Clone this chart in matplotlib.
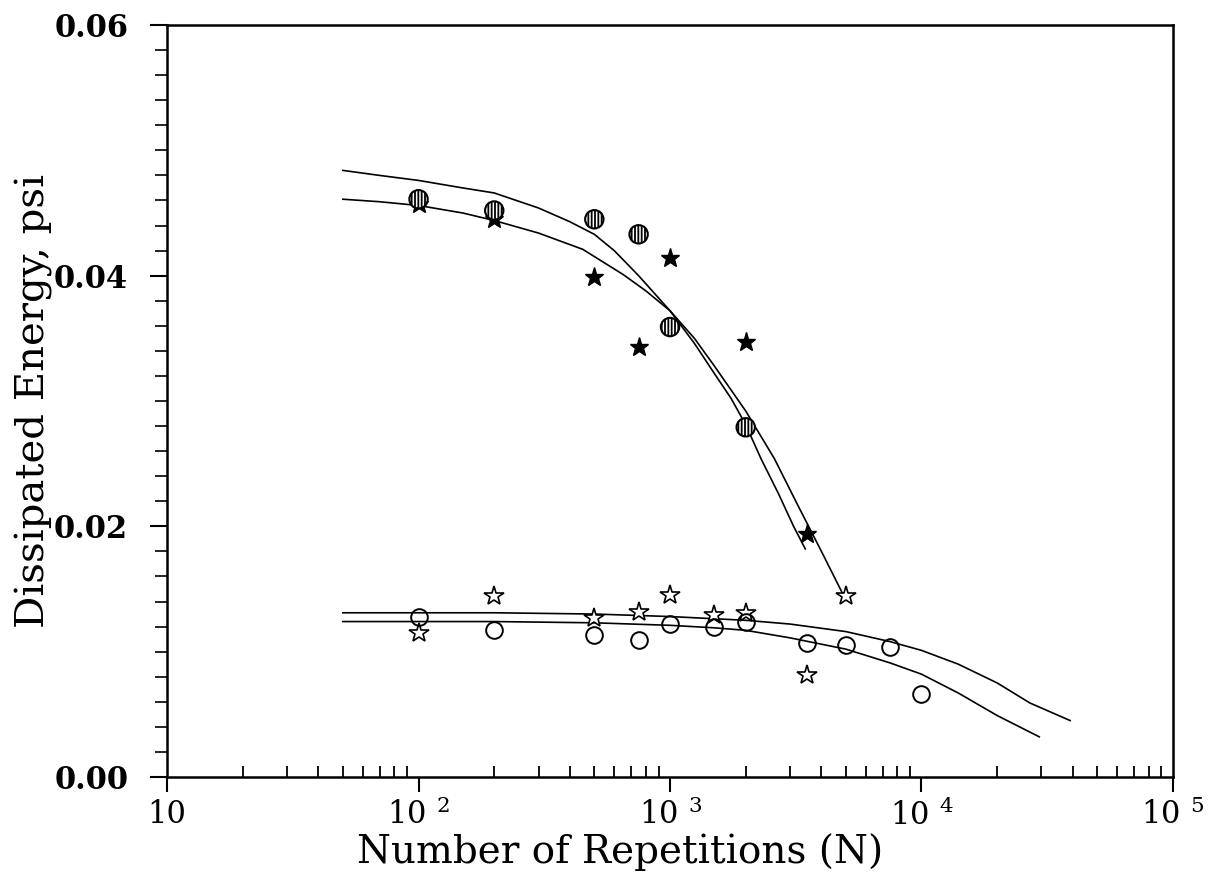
import matplotlib
matplotlib.use('Agg')
import matplotlib.pyplot as plt
from matplotlib.ticker import FixedLocator, FixedFormatter, NullFormatter, LogLocator, MultipleLocator

# measured points
n_hatch = [100, 200, 500, 750, 1000, 2000]
e_hatch = [0.0461, 0.0452, 0.0445, 0.0433, 0.0359, 0.0279]

n_fstar = [100, 200, 500, 750, 1000, 2000, 3500]
e_fstar = [0.0457, 0.0445, 0.0399, 0.0343, 0.0414, 0.0347, 0.0194]

n_ostar = [100, 200, 500, 750, 1000, 1500, 2000, 3500, 5000]
e_ostar = [0.01147, 0.0144, 0.0127, 0.0132, 0.01448, 0.0129, 0.0131, 0.00815, 0.0144]

n_ocirc = [100, 200, 500, 750, 1000, 1500, 2000, 3500, 5000, 7500, 10000]
e_ocirc = [0.01275, 0.01174, 0.01129, 0.01094, 0.01219, 0.01193, 0.01235, 0.01068, 0.01054, 0.01033, 0.0066]

# fitted curves
n_fit1 = [50, 70, 100, 150, 200, 300, 400, 500, 600, 750, 1000, 1250, 1500, 1750, 2000, 2300, 2700, 3100, 3450]
e_fit1 = [0.0484, 0.0480, 0.0476, 0.0470, 0.0466, 0.0454, 0.0443, 0.0433, 0.0420, 0.0400, 0.0372, 0.0346,
          0.0322, 0.0302, 0.0281, 0.0254, 0.0226, 0.0200, 0.0182]

n_fit2 = [50, 70, 100, 150, 200, 300, 450, 650, 800, 1000, 1250, 1500, 2000, 2600, 3200, 4000, 4950]
e_fit2 = [0.0461, 0.0459, 0.0456, 0.0450, 0.0444, 0.0434, 0.0421, 0.0401, 0.0388, 0.0372, 0.0350, 0.0328,
          0.0292, 0.0254, 0.0218, 0.0180, 0.0143]

n_fit3 = [50, 100, 200, 500, 1000, 2000, 3000, 5000, 7500, 10000, 14000, 20000, 27000, 39000]
e_fit3 = [0.0131, 0.0131, 0.0131, 0.0130, 0.0128, 0.0125, 0.0122, 0.0116, 0.0108, 0.0101, 0.0090, 0.0075,
          0.0059, 0.0045]

n_fit4 = [50, 100, 200, 500, 1000, 1500, 2000, 3000, 5000, 7500, 10000, 14000, 20000, 29400]
e_fit4 = [0.0124, 0.0124, 0.0124, 0.0123, 0.0121, 0.0119, 0.0117, 0.0111, 0.0102, 0.0091, 0.0082, 0.0067,
          0.0049, 0.0032]

x_ticks = [10, 100, 1000, 10000, 100000]
x_labels = ['10', r'$\mathrm{10\ ^{2}}$', r'$\mathrm{10\ ^{3}}$', r'$\mathrm{10\ ^{4}}$', r'$\mathrm{10\ ^{5}}$']
y_ticks = [0.00, 0.02, 0.04, 0.06]
y_labels = ['0.00', '0.02', '0.04', '0.06']

plt.rcParams['font.family'] = 'DejaVu Serif'
plt.rcParams['mathtext.fontset'] = 'custom'
plt.rcParams['mathtext.rm'] = 'DejaVu Serif'
plt.rcParams['hatch.linewidth'] = 1.3

fig = plt.figure(figsize=(12.23, 8.72), dpi=100)
ax = fig.add_axes([0.1366, 0.109, 0.8225, 0.8623])

for n, e in [(n_fit1, e_fit1), (n_fit2, e_fit2), (n_fit3, e_fit3), (n_fit4, e_fit4)]:
    ax.plot(n, e, color='black', lw=1.2, zorder=2)

ax.plot(n_fstar, e_fstar, ls='none', marker='*', ms=14, mfc='black', mec='black', zorder=3)
ax.scatter(n_hatch, e_hatch, s=175, marker='o', facecolor='white', edgecolor='black',
           hatch='|||||', linewidth=1.5, zorder=4)
ax.plot(n_ostar, e_ostar, ls='none', marker='*', ms=15, mfc='white', mec='black', mew=1.2, zorder=3)
ax.plot(n_ocirc, e_ocirc, ls='none', marker='o', ms=12, mfc='none', mec='black', mew=1.4, zorder=3)

ax.set_xscale('log')
ax.set_xlim(10, 100000)
ax.set_ylim(0, 0.06)

ax.xaxis.set_major_locator(FixedLocator(x_ticks))
ax.xaxis.set_major_formatter(FixedFormatter(x_labels))
ax.xaxis.set_minor_locator(LogLocator(base=10, subs=range(2, 10), numticks=20))
ax.xaxis.set_minor_formatter(NullFormatter())
ax.yaxis.set_major_locator(FixedLocator(y_ticks))
ax.yaxis.set_major_formatter(FixedFormatter(y_labels))
ax.yaxis.set_minor_locator(MultipleLocator(0.002))

ax.tick_params(axis='x', which='major', direction='out', length=11, width=1.5, labelsize=22, pad=5,
               top=False)
ax.tick_params(axis='x', which='minor', direction='in', length=8, width=1.3, top=False)
ax.tick_params(axis='y', which='major', direction='out', length=12, width=1.5, labelsize=22, pad=16,
               right=False)
ax.tick_params(axis='y', which='minor', direction='out', length=9, width=1.2, right=False)
for lab in ax.get_yticklabels():
    lab.set_fontweight('bold')

for sp in ax.spines.values():
    sp.set_linewidth(1.8)

ax.set_xlabel('Number of Repetitions (N)', fontsize=28)
ax.xaxis.set_label_coords(0.45, -0.074, transform=ax.transAxes)
ax.xaxis.label.set_va('top')
ax.set_ylabel('Dissipated Energy, psi', fontsize=29)
ax.yaxis.set_label_coords(-0.113, 0.5)

fig.savefig('out.png', dpi=100)
plt.close()
